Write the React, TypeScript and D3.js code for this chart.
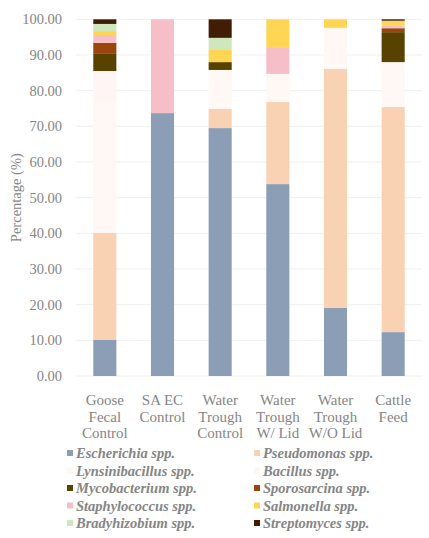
import React from "react";
import * as d3 from "d3";

const categories = [
  ["Goose", "Fecal", "Control"],
  ["SA EC", "Control"],
  ["Water", "Trough", "Control"],
  ["Water", "Trough", "W/ Lid"],
  ["Water", "Trough", "W/O Lid"],
  ["Cattle", "Feed"],
];

const species = [
  "Escherichia spp.",
  "Pseudomonas spp.",
  "Lynsinibacillus spp.",
  "Bacillus spp.",
  "Mycobacterium spp.",
  "Sporosarcina spp.",
  "Staphylococcus spp.",
  "Salmonella spp.",
  "Bradyhizobium spp.",
  "Streptomyces spp.",
];

const colors = [
  "#8c9eb5",
  "#f9d1b3",
  "#fff8f4",
  "#fff5f5",
  "#574200",
  "#9a450c",
  "#f6bec6",
  "#fed653",
  "#cfe7bc",
  "#421d05",
];

// one array per species, values per category (%)
const escherichia = [10.1, 73.7, 69.5, 53.8, 19.1, 12.3];
const pseudomonas = [30.0, 0, 5.4, 23.0, 67.0, 63.1];
const lynsinibacillus = [36.7, 0, 10.9, 7.9, 11.5, 12.6];
const bacillus = [8.7, 0, 0, 0, 0, 0];
const mycobacterium = [4.8, 0, 2.2, 0, 0, 8.4];
const sporosarcina = [3.1, 0, 0, 0, 0, 1.1];
const staphylococcus = [2.2, 26.3, 0, 7.5, 0, 0.8];
const salmonella = [1.1, 0, 3.4, 7.8, 2.4, 1.3];
const bradyhizobium = [2.0, 0, 3.4, 0, 0, 0];
const streptomyces = [1.3, 0, 5.2, 0, 0, 0.4];

const yTicks = [0, 10, 20, 30, 40, 50, 60, 70, 80, 90, 100];

const seriesValues = [
  escherichia, pseudomonas, lynsinibacillus, bacillus, mycobacterium,
  sporosarcina, staphylococcus, salmonella, bradyhizobium, streptomyces,
];

const App: React.FC = () => {
  const width = 429;
  const height = 538;
  const margin = { top: 19.3, left: 76, right: 7, bottom: 162 };

  const rows = categories.map((c, i) => {
    const row: any = { key: i };
    species.forEach((s, j) => (row[s] = seriesValues[j][i]));
    return row;
  });

  const stack = d3.stack<any>().keys(species)(rows);

  const x = d3.scaleBand<number>()
    .domain(categories.map((_, i) => i))
    .range([margin.left, width - margin.right])
    .paddingInner(0.6)
    .paddingOuter(0.3);

  const y = d3.scaleLinear()
    .domain([0, 100])
    .range([height - margin.bottom, margin.top]);

  const fmt = d3.format(".2f");
  const textColor = "#858585";
  const font = "'Liberation Serif', 'Times New Roman', serif";

  return (
    <svg width={width} height={height} style={{ position: "absolute", left: 0, top: 0, fontFamily: font }}>
      <rect width={width} height={height} fill="#fff" />
      {yTicks.map(t => (
        <g key={t}>
          <line x1={margin.left} x2={width - margin.right} y1={y(t)} y2={y(t)} stroke="#f0f0f0" strokeWidth={1} />
          <text x={62} y={y(t)} dy="0.35em" textAnchor="end" fontSize={14.5} fill={textColor}>{fmt(t)}</text>
        </g>
      ))}
      <text transform={`translate(21,${(y(0) + y(100)) / 2}) rotate(-90)`} textAnchor="middle" fontSize={14.5} fill={textColor}>
        Percentage (%)
      </text>
      {stack.map((layer, j) => (
        <g key={species[j]} fill={colors[j]}>
          {layer.map((d, i) => (
            d[1] - d[0] > 0 ? (
              <rect key={i} x={x(i)} width={x.bandwidth()} y={y(d[1])} height={y(d[0]) - y(d[1])} />
            ) : null
          ))}
        </g>
      ))}
      {categories.map((lines, i) => (
        <text key={i} textAnchor="middle" fontSize={15} fill={textColor}>
          {lines.map((l, k) => (
            <tspan key={k} x={x(i)! + x.bandwidth() / 2} y={405 + k * 16.5}>{l}</tspan>
          ))}
        </text>
      ))}
      {species.map((s, j) => {
        const col = j % 2;
        const row = Math.floor(j / 2);
        const lx = col === 0 ? 67 : 254;
        const ly = 453 + row * 17.5;
        return (
          <g key={s}>
            <rect x={lx} y={ly - 3} width={6} height={6} fill={colors[j]} />
            <text x={lx + 9} y={ly} dy="0.35em" fontSize={14.5} fontWeight="bold" fontStyle="italic" fill={textColor}>{s}</text>
          </g>
        );
      })}
    </svg>
  );
};

export default App;
